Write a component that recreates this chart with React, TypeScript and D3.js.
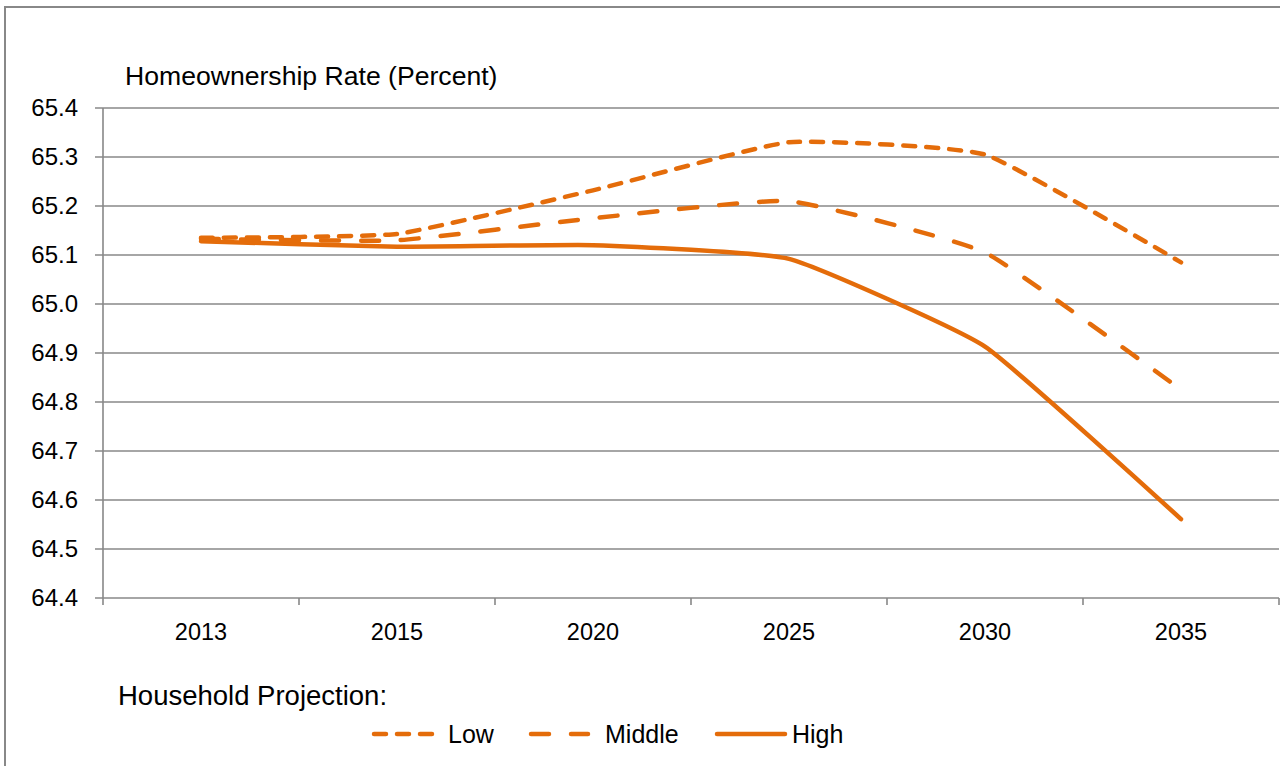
import { useEffect, useRef } from "react";
import * as d3 from "d3";

const years = ["2013", "2015", "2020", "2025", "2030", "2035"];
const lowValues = [65.135, 65.143, 65.232, 65.33, 65.305, 65.085];
const middleValues = [65.133, 65.13, 65.175, 65.21, 65.105, 64.825];
const highValues = [65.128, 65.117, 65.12, 65.092, 64.913, 64.561];
const yTicks = [64.4, 64.5, 64.6, 64.7, 64.8, 64.9, 65.0, 65.1, 65.2, 65.3, 65.4];
const seriesNames = ["Low", "Middle", "High"];

const ORANGE = "#E46C0A";
const GRID = "#888888";
const FONT = "'Liberation Sans', Arial, sans-serif";

const App = () => {
  const svgRef = useRef<SVGSVGElement>(null);

  useEffect(() => {
    if (!svgRef.current) return;
    const svg = d3.select(svgRef.current);
    svg.selectAll("*").remove();

    const left = 103;
    const right = 1279;
    const top = 108;
    const bottom = 598;

    const x = d3.scaleBand<string>().domain(years).range([left, right]);
    const y = d3.scaleLinear().domain([64.4, 65.4]).range([bottom, top]);
    const cx = (d: string) => (x(d) as number) + x.bandwidth() / 2;

    // outer frame
    svg
      .append("rect")
      .attr("x", 5)
      .attr("y", 7)
      .attr("width", 1300)
      .attr("height", 800)
      .attr("fill", "white")
      .attr("stroke", GRID)
      .attr("stroke-width", 2);

    // gridlines
    svg
      .append("g")
      .selectAll("line")
      .data(yTicks)
      .join("line")
      .attr("x1", left - 8)
      .attr("x2", right)
      .attr("y1", (d) => y(d))
      .attr("y2", (d) => y(d))
      .attr("stroke", GRID)
      .attr("stroke-width", 1.6);

    // y axis line
    svg
      .append("line")
      .attr("x1", left)
      .attr("x2", left)
      .attr("y1", top)
      .attr("y2", bottom)
      .attr("stroke", GRID)
      .attr("stroke-width", 1.6);

    // x ticks at band edges
    const edges = years.map((d) => x(d) as number).concat([right]);
    svg
      .append("g")
      .selectAll("line")
      .data(edges)
      .join("line")
      .attr("x1", (d) => d)
      .attr("x2", (d) => d)
      .attr("y1", bottom)
      .attr("y2", bottom + 7)
      .attr("stroke", GRID)
      .attr("stroke-width", 1.6);

    // y tick labels
    svg
      .append("g")
      .selectAll("text")
      .data(yTicks)
      .join("text")
      .attr("x", 78)
      .attr("y", (d) => y(d))
      .attr("dy", "0.35em")
      .attr("text-anchor", "end")
      .attr("font-family", FONT)
      .attr("font-size", 24)
      .attr("fill", "#000")
      .text((d) => d3.format(".1f")(d));

    // x tick labels
    svg
      .append("g")
      .selectAll("text")
      .data(years)
      .join("text")
      .attr("x", cx)
      .attr("y", 640)
      .attr("text-anchor", "middle")
      .attr("font-family", FONT)
      .attr("font-size", 23.5)
      .attr("fill", "#000")
      .text((d) => d);

    // title
    svg
      .append("text")
      .attr("x", 125)
      .attr("y", 85)
      .attr("font-family", FONT)
      .attr("font-size", 26.6)
      .attr("fill", "#000")
      .text("Homeownership Rate (Percent)");

    const dashes = ["12,11", "18,22", null];
    const allSeries = [lowValues, middleValues, highValues];

    const line = d3
      .line<number>()
      .x((_d, i) => cx(years[i]))
      .y((d) => y(d))
      .curve(d3.curveCardinal.tension(0.6));

    // draw High first so dashed ones sit on top
    [2, 1, 0].forEach((k) => {
      svg
        .append("path")
        .datum(allSeries[k])
        .attr("d", line)
        .attr("fill", "none")
        .attr("stroke", ORANGE)
        .attr("stroke-width", 4.5)
        .attr("stroke-linecap", "round")
        .attr("stroke-linejoin", "round")
        .attr("stroke-dasharray", dashes[k]);
    });

    // legend
    svg
      .append("text")
      .attr("x", 118)
      .attr("y", 705)
      .attr("font-family", FONT)
      .attr("font-size", 27.5)
      .attr("fill", "#000")
      .text("Household Projection:");

    const legendItems = [
      { x1: 374, x2: 433, tx: 448 },
      { x1: 531, x2: 588, tx: 605 },
      { x1: 717, x2: 785, tx: 792 },
    ];
    const ly = 734;
    legendItems.forEach((it, k) => {
      svg
        .append("line")
        .attr("x1", it.x1)
        .attr("x2", it.x2)
        .attr("y1", ly)
        .attr("y2", ly)
        .attr("stroke", ORANGE)
        .attr("stroke-width", 4.5)
        .attr("stroke-linecap", "round")
        .attr("stroke-dasharray", dashes[k]);
      svg
        .append("text")
        .attr("x", it.tx)
        .attr("y", ly)
        .attr("dy", "0.35em")
        .attr("font-family", FONT)
        .attr("font-size", 25)
        .attr("fill", "#000")
        .text(seriesNames[k]);
    });
  }, []);

  return (
    <svg
      ref={svgRef}
      width={1280}
      height={766}
      style={{ position: "absolute", left: 0, top: 0, background: "white" }}
    />
  );
};

export default App;
